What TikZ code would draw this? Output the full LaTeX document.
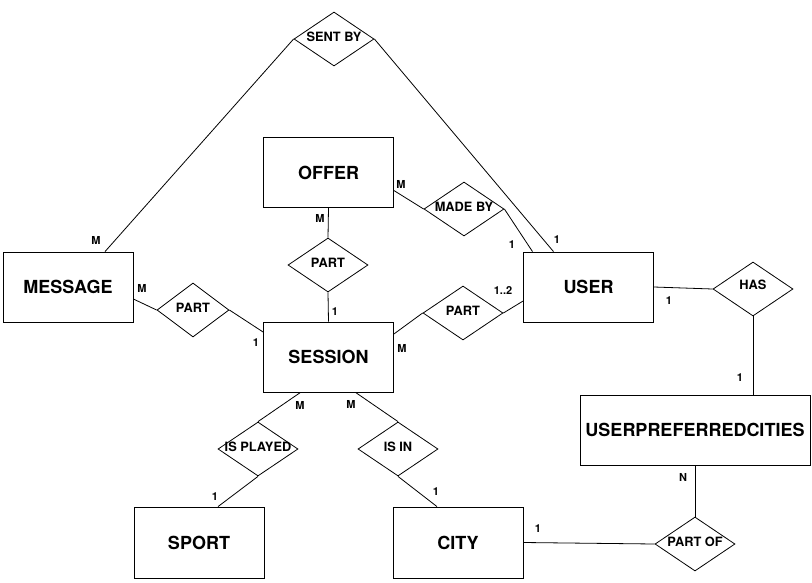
\documentclass[tikz,border=0pt]{standalone}
\usepackage{fontspec}
\setmainfont{TeX Gyre Heros}
\usetikzlibrary{shapes.geometric}

\tikzset{
  entity/.style={draw, rectangle, minimum width=130pt, minimum height=70pt,
    inner sep=0pt, font=\bfseries\fontsize{18}{20}\selectfont},
  relation/.style={draw, diamond, minimum width=80pt, minimum height=54pt, inner sep=0pt},
  reltext/.style={font=\bfseries\fontsize{12.8}{14}\selectfont, inner sep=0pt, yshift=2pt},
  card/.style={font=\bfseries\fontsize{11}{13}\selectfont, inner sep=0pt}
}

\begin{document}
\begin{tikzpicture}[x=1pt, y=-1pt, line width=0.8pt]
  \useasboundingbox (0,0) rectangle (812,582);

  % entities
  \node[entity] (message) at (68,287) {MESSAGE};
  \node[entity] (offer) at (328.5,172.5) {OFFER};
  \node[entity] (session) at (328.5,357) {SESSION};
  \node[entity] (user) at (588.5,287) {USER};
  \node[entity, minimum width=230pt] (upc) at (695,430) {USERPREFERREDCITIES};
  \node[entity, minimum height=71pt] (sport) at (199,542.5) {SPORT};
  \node[entity, minimum height=71pt] (city) at (458,542.5) {CITY};

  % relationships
  \node[relation, label={[reltext]center:SENT BY}] (sentby) at (334,39) {};
  \node[relation, label={[reltext]center:MADE BY}] (madeby) at (464,209) {};
  \node[relation, label={[reltext]center:PART}] (partoffer) at (328,265) {};
  \node[relation, minimum width=72pt, label={[reltext]center:PART}] (partmsg) at (193,310) {};
  \node[relation, label={[reltext]center:PART}] (partuser) at (463,313) {};
  \node[relation, label={[reltext, yshift=2pt]center:HAS}] (has) at (753,289) {};
  \node[relation, label={[reltext]center:IS PLAYED}] (isplayed) at (258,449) {};
  \node[relation, label={[reltext]center:IS IN}] (isin) at (398,449) {};
  \node[relation, label={[reltext]center:PART OF}] (partof) at (695,544) {};

  % connectors
  \draw ([xshift=37pt]message.north) -- (sentby.west);
  \draw (sentby.east) -- ([xshift=-35pt]user.north);
  \draw ([yshift=-18pt]offer.east) -- (madeby.west);
  \draw (madeby.east) -- ([xshift=-56pt]user.north);
  \draw (offer.south) -- (partoffer.north);
  \draw (partoffer.south) -- (session.north);
  \draw ([yshift=-12pt]message.east) -- (partmsg.west);
  \draw (partmsg.east) -- ([yshift=25pt]session.west);
  \draw ([yshift=23pt]session.east) -- (partuser.west);
  \draw (partuser.east) -- ([yshift=-14pt]user.west);
  \draw (user.east) -- (has.west);
  \draw (has.south) -- (has.south |- upc.north);
  \draw (upc.south) -- (partof.north);
  \draw (city.east) -- (partof.west);
  \draw ([xshift=-28pt]session.south) -- (isplayed.north);
  \draw (isplayed.south) -- ([xshift=19pt]sport.north);
  \draw ([xshift=27pt]session.south) -- (isin.north);
  \draw (isin.south) -- ([xshift=-21pt]city.north);

  % cardinalities
  \foreach \n/\x/\y/\t in {a/96/240/M, b/557/240/1, c/401/184/M, d/512/245/1,
      e/320/218/M, f/335/312/1, g/142/288/M, h/256/343/1, i/402/348/M,
      j/503/291/1..2, k/669/301/1, l/740/378/1, m/683/477/N, n/538/529/1,
      o/300/405/M, p/215/497/1, q/351/404/M, r/436/492/1} {
    \node[card] (card\n) at (\x,\y) {\t};
  }
\end{tikzpicture}
\end{document}
